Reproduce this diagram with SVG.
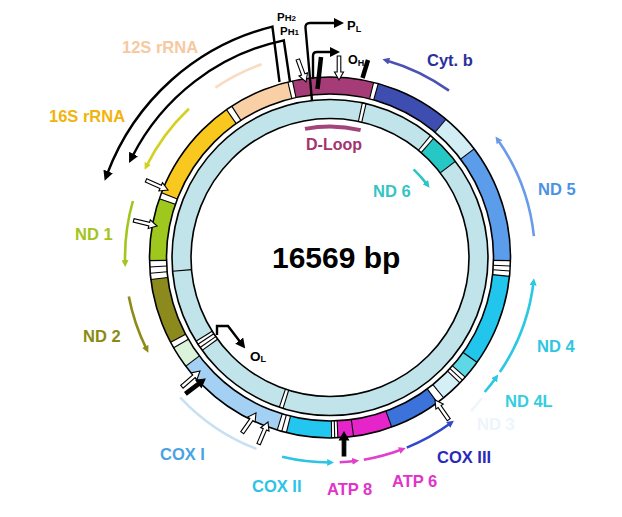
<svg xmlns="http://www.w3.org/2000/svg" width="622" height="517" viewBox="0 0 622 517">
<style>
  text { font-family: "Liberation Sans", Arial, sans-serif; font-weight: bold; }
  .lbl { font-size: 16.5px; }
  .band { fill: none; stroke-width: 17; }
  .iband { fill: none; stroke-width: 19; }
  .edge { fill: none; stroke: #000; stroke-width: 1.6; }
  .tick { stroke: #000; stroke-width: 1.1; }
  .gene { fill: none; stroke-width: 2.6; }
  .pline { fill: none; stroke: #000; stroke-width: 2.4; stroke-linejoin: miter; }
  .wa { fill: #fff; stroke: #000; stroke-width: 1.1; }
  .ba { fill: #000; stroke: #000; stroke-width: 1.1; }
  .bar { stroke: #000; stroke-width: 4.5; }
</style>
<defs>
  <line id="to" x1="0" y1="-163.5" x2="0" y2="-180.5"/>
  <line id="ti" x1="0" y1="-139" x2="0" y2="-158"/>
  <path id="arw" d="M0,0 L-8,-4.5 L-8,-1.8 L-24,-1.8 L-24,1.8 L-8,1.8 L-8,4.5 Z"/>
  <marker id="hk" viewBox="0 0 10 10" refX="3" refY="5" markerWidth="10" markerHeight="10" markerUnits="userSpaceOnUse" orient="auto"><path d="M0,0 L10,5 L0,10 z" fill="#000"/></marker>
  <marker id="h16s" viewBox="0 0 10 10" refX="4" refY="5" markerWidth="7" markerHeight="7" markerUnits="userSpaceOnUse" orient="auto"><path d="M0,0 L10,5 L0,10 z" fill="#d4d020"/></marker>
  <marker id="hnd1" viewBox="0 0 10 10" refX="4" refY="5" markerWidth="7" markerHeight="7" markerUnits="userSpaceOnUse" orient="auto"><path d="M0,0 L10,5 L0,10 z" fill="#a2c61e"/></marker>
  <marker id="hnd2" viewBox="0 0 10 10" refX="4" refY="5" markerWidth="7" markerHeight="7" markerUnits="userSpaceOnUse" orient="auto"><path d="M0,0 L10,5 L0,10 z" fill="#8d8b1a"/></marker>
  <marker id="hcox2" viewBox="0 0 10 10" refX="4" refY="5" markerWidth="7" markerHeight="7" markerUnits="userSpaceOnUse" orient="auto"><path d="M0,0 L10,5 L0,10 z" fill="#2bc4e4"/></marker>
  <marker id="hatp" viewBox="0 0 10 10" refX="4" refY="5" markerWidth="7" markerHeight="7" markerUnits="userSpaceOnUse" orient="auto"><path d="M0,0 L10,5 L0,10 z" fill="#e040cc"/></marker>
  <marker id="hcox3" viewBox="0 0 10 10" refX="4" refY="5" markerWidth="7" markerHeight="7" markerUnits="userSpaceOnUse" orient="auto"><path d="M0,0 L10,5 L0,10 z" fill="#3048cc"/></marker>
  <marker id="hnd4" viewBox="0 0 10 10" refX="4" refY="5" markerWidth="7" markerHeight="7" markerUnits="userSpaceOnUse" orient="auto"><path d="M0,0 L10,5 L0,10 z" fill="#2ac8e2"/></marker>
  <marker id="hnd5" viewBox="0 0 10 10" refX="4" refY="5" markerWidth="7" markerHeight="7" markerUnits="userSpaceOnUse" orient="auto"><path d="M0,0 L10,5 L0,10 z" fill="#6a9be8"/></marker>
  <marker id="hcytb" viewBox="0 0 10 10" refX="4" refY="5" markerWidth="7" markerHeight="7" markerUnits="userSpaceOnUse" orient="auto"><path d="M0,0 L10,5 L0,10 z" fill="#4c52b2"/></marker>
  <marker id="hnd6" viewBox="0 0 10 10" refX="4" refY="5" markerWidth="7" markerHeight="7" markerUnits="userSpaceOnUse" orient="auto"><path d="M0,0 L10,5 L0,10 z" fill="#2ec4c4"/></marker>
</defs>

<rect width="622" height="517" fill="#fff"/>

<!-- base rings -->
<g id="ring" transform="translate(330,257.5)">
  <circle r="172" class="band" stroke="#ffffff"/>
  <circle r="148.5" class="iband" stroke="#c0e4e9"/>
</g>

<!-- genes: ring segment, arrow, label -->
<g id="gene-dloop">
  <circle r="172" class="band" pathLength="360" stroke="#a63c77" stroke-dasharray="26 334" transform="translate(330,257.5) rotate(258)"/>
  <path d="M305,128.9 A131,131 0 0 1 360.6,130.1" fill="none" stroke="#a4457a" stroke-width="4"/>
  <text x="306" y="150" font-size="16" fill="#a3336d">D-Loop</text>
</g>
<g id="gene-cytb">
  <circle r="172" class="band" pathLength="360" stroke="#3d4db0" stroke-dasharray="24.5 335.5" transform="translate(330,257.5) rotate(-74.5)"/>
  <path d="M449,90.6 A205,205 0 0 0 386.5,60.4" class="gene" stroke="#4c52b2" marker-end="url(#hcytb)"/>
  <text x="427" y="66" class="lbl" fill="#2b2f9e">Cyt. b</text>
</g>
<g id="gene-nd6">
  <circle r="172" class="band" pathLength="360" stroke="#d2eef4" stroke-dasharray="13 347" transform="translate(330,257.5) rotate(-50)"/>
  <circle r="148.5" class="iband" pathLength="360" stroke="#25c8c4" stroke-dasharray="11.5 348.5" transform="translate(330,257.5) rotate(-49)"/>
  <path d="M413.6,169.4 A121.5,121.5 0 0 1 427,184.4" class="gene" stroke="#2ec4c4" marker-end="url(#hnd6)"/>
  <text x="373" y="197" class="lbl" fill="#35c4c4">ND 6</text>
</g>
<g id="gene-nd5">
  <circle r="172" class="band" pathLength="360" stroke="#5c9deb" stroke-dasharray="38 322" transform="translate(330,257.5) rotate(-37)"/>
  <path d="M533.9,236.1 A205,205 0 0 0 497.9,139.9" class="gene" stroke="#6a9be8" marker-end="url(#hnd5)"/>
  <text x="538" y="195" class="lbl" fill="#4b92e2">ND 5</text>
</g>
<g id="gene-nd4">
  <circle r="172" class="band" pathLength="360" stroke="#22c5ec" stroke-dasharray="29.5 330.5" transform="translate(330,257.5) rotate(6)"/>
  <path d="M499.9,372.1 A205,205 0 0 0 533.5,282.5" class="gene" stroke="#2ac8e2" marker-end="url(#hnd4)"/>
  <text x="537" y="352" class="lbl" fill="#30c6e2">ND 4</text>
</g>
<g id="gene-nd4l">
  <circle r="172" class="band" pathLength="360" stroke="#5dd8e4" stroke-dasharray="6 354" transform="translate(330,257.5) rotate(35.5)"/>
  <path d="M484.7,392 A205,205 0 0 0 495.8,378" class="gene" stroke="#2ac8e2" marker-end="url(#hnd4)"/>
  <text x="505" y="407" class="lbl" fill="#35cde0">ND 4L</text>
</g>
<g id="gene-nd3">
  <circle r="172" class="band" pathLength="360" stroke="#d4eff5" stroke-dasharray="7 353" transform="translate(330,257.5) rotate(44)"/>
  <path d="M471,411 A205,205 0 0 0 482,398" class="gene" stroke="#eef6fa"/>
  <text x="477" y="430" class="lbl" fill="#eef5fa">ND 3</text>
</g>
<g id="gene-cox3">
  <circle r="172" class="band" pathLength="360" stroke="#3b73da" stroke-dasharray="16.5 343.5" transform="translate(330,257.5) rotate(53.5)"/>
  <path d="M406.8,447.6 A205,205 0 0 0 450.5,423.3" class="gene" stroke="#3048cc" marker-end="url(#hcox3)"/>
  <text x="437" y="463" class="lbl" fill="#2a2ab8">COX III</text>
</g>
<g id="gene-atp6">
  <circle r="172" class="band" pathLength="360" stroke="#e524c9" stroke-dasharray="12.5 347.5" transform="translate(330,257.5) rotate(70)"/>
  <path d="M363.8,459.7 A205,205 0 0 0 401.8,449.5" class="gene" stroke="#e040cc" marker-end="url(#hatp)"/>
  <text x="392" y="487" class="lbl" fill="#e034cb">ATP 6</text>
</g>
<g id="gene-atp8">
  <circle r="172" class="band" pathLength="360" stroke="#e524c9" stroke-dasharray="5 355" transform="translate(330,257.5) rotate(82.5)"/>
  <path d="M339.7,462.3 A205,205 0 0 0 355,461" class="gene" stroke="#e040cc" marker-end="url(#hatp)"/>
  <text x="327" y="495" class="lbl" fill="#e034cb">ATP 8</text>
</g>
<g id="gene-cox2">
  <circle r="172" class="band" pathLength="360" stroke="#22c6ef" stroke-dasharray="14.5 345.5" transform="translate(330,257.5) rotate(89.5)"/>
  <path d="M282.1,456.8 A205,205 0 0 0 330,462.5" class="gene" stroke="#2bc4e4" marker-end="url(#hcox2)"/>
  <text x="252" y="492" class="lbl" fill="#2dc3e6">COX II</text>
</g>
<g id="gene-cox1">
  <circle r="172" class="band" pathLength="360" stroke="#a4d0f3" stroke-dasharray="36 324" transform="translate(330,257.5) rotate(107)"/>
  <path d="M180.1,397.3 A205,205 0 0 0 256.5,448.9" class="gene" stroke="#c9e0f2"/>
  <text x="160" y="460" class="lbl" fill="#4aa2e4">COX I</text>
</g>
<g id="trna-wancy">
  <circle r="172" class="band" pathLength="360" stroke="#daf3da" stroke-dasharray="7 353" transform="translate(330,257.5) rotate(143)"/>
</g>
<g id="gene-nd2">
  <circle r="172" class="band" pathLength="360" stroke="#8c8a1c" stroke-dasharray="21 339" transform="translate(330,257.5) rotate(152)"/>
  <path d="M128.8,296.6 A205,205 0 0 0 146.5,349" class="gene" stroke="#8d8b1a" marker-end="url(#hnd2)"/>
  <text x="83" y="342" class="lbl" fill="#8a8a12">ND 2</text>
</g>
<g id="gene-nd1">
  <circle r="172" class="band" pathLength="360" stroke="#9ec81e" stroke-dasharray="20 340" transform="translate(330,257.5) rotate(179)"/>
  <path d="M132.9,201 A205,205 0 0 0 125.1,262.9" class="gene" stroke="#a2c61e" marker-end="url(#hnd1)"/>
  <text x="75" y="240" class="lbl" fill="#a4c41c">ND 1</text>
</g>
<g id="gene-16s">
  <circle r="172" class="band" pathLength="360" stroke="#f8c81e" stroke-dasharray="34 326" transform="translate(330,257.5) rotate(201)"/>
  <path d="M188.9,108.8 A205,205 0 0 0 146.5,166" class="gene" stroke="#d4d020" marker-end="url(#h16s)"/>
  <text x="49" y="122" class="lbl" fill="#f2b30c">16S rRNA</text>
</g>
<g id="gene-12s">
  <circle r="172" class="band" pathLength="360" stroke="#f9d0a6" stroke-dasharray="19.5 340.5" transform="translate(330,257.5) rotate(237)"/>
  <path d="M261.6,64.3 A205,205 0 0 0 215.4,87.6" class="gene" stroke="#f7dcc2" stroke-width="3"/>
  <text x="122" y="53" class="lbl" fill="#f6c9a0">12S rRNA</text>
</g>

<!-- inner ring white stripes -->
<g id="inner-stripes" transform="translate(330,257.5)">
  <circle r="148.5" class="iband" pathLength="360" stroke="#fff" stroke-dasharray="1.4 358.6" transform="rotate(-78.2)"/>
  <circle r="148.5" class="iband" pathLength="360" stroke="#fff" stroke-dasharray="1.5 358.5" transform="rotate(-50.5)"/>
  <circle r="148.5" class="iband" pathLength="360" stroke="#fff" stroke-dasharray="1.4 358.6" transform="rotate(107.3)"/>
  <circle r="148.5" class="iband" pathLength="360" stroke="#fff" stroke-dasharray="4 356" transform="rotate(144)"/>
</g>

<!-- ticks and outlines -->
<g id="ticks" transform="translate(330,257.5)" class="tick">
  <use href="#to" transform="rotate(346.5)"/><use href="#to" transform="rotate(348)"/>
  <use href="#to" transform="rotate(14)"/><use href="#to" transform="rotate(15.5)"/>
  <use href="#to" transform="rotate(40)"/><use href="#to" transform="rotate(53)"/>
  <use href="#to" transform="rotate(91)"/><use href="#to" transform="rotate(92.7)"/>
  <use href="#to" transform="rotate(94.3)"/><use href="#to" transform="rotate(96)"/>
  <use href="#to" transform="rotate(125.5)"/><use href="#to" transform="rotate(131.5)"/>
  <use href="#to" transform="rotate(132.8)"/><use href="#to" transform="rotate(134)"/>
  <use href="#to" transform="rotate(141)"/><use href="#to" transform="rotate(143.5)"/>
  <use href="#to" transform="rotate(160)"/><use href="#to" transform="rotate(172.5)"/>
  <use href="#to" transform="rotate(177.5)"/><use href="#to" transform="rotate(178.5)"/>
  <use href="#to" transform="rotate(179.5)"/><use href="#to" transform="rotate(194)"/>
  <use href="#to" transform="rotate(195.5)"/><use href="#to" transform="rotate(197)"/>
  <use href="#to" transform="rotate(233)"/><use href="#to" transform="rotate(240)"/>
  <use href="#to" transform="rotate(242)"/><use href="#to" transform="rotate(263)"/>
  <use href="#to" transform="rotate(265)"/><use href="#to" transform="rotate(267)"/>
  <use href="#to" transform="rotate(269)"/><use href="#to" transform="rotate(289)"/>
  <use href="#to" transform="rotate(291)"/><use href="#to" transform="rotate(325)"/>
  <use href="#to" transform="rotate(327)"/>
  <use href="#ti" transform="rotate(11.8)"/><use href="#ti" transform="rotate(13.2)"/>
  <use href="#ti" transform="rotate(39.5)"/><use href="#ti" transform="rotate(41)"/>
  <use href="#ti" transform="rotate(52.5)"/>
  <use href="#ti" transform="rotate(197.3)"/><use href="#ti" transform="rotate(198.7)"/>
  <use href="#ti" transform="rotate(234)"/><use href="#ti" transform="rotate(235.3)"/>
  <use href="#ti" transform="rotate(236.7)"/><use href="#ti" transform="rotate(238)"/>
  <use href="#ti" transform="rotate(265)"/>
  <circle r="180.5" class="edge"/>
  <circle r="163.5" class="edge"/>
  <circle r="158" class="edge"/>
  <circle r="139" class="edge"/>
</g>

<!-- connectors: promoters, origins and site markers -->
<g id="connectors">
  <path id="ph2" d="M279.5,82 L272.4,26.6 A238,238 0 0 0 107.1,174.2" class="pline" marker-end="url(#hk)"/>
  <path id="ph1" d="M290,82 L283.8,40.3 A222,222 0 0 0 132.2,156.7" class="pline" marker-end="url(#hk)"/>
  <path id="pl" d="M312,101 L305.5,28 Q305,23 310,23 L337,23" class="pline" marker-end="url(#hk)"/>
  <path id="oh" d="M313,79 L313,56 Q313,52 317,52 L333,52" class="pline" marker-end="url(#hk)"/>
  <path id="ol" d="M217,335 L217,326 L228,326 L241,343" class="pline" stroke-width="2" marker-end="url(#hk)"/>
  <line x1="321" y1="57" x2="317.5" y2="89" class="bar"/>
  <line x1="368" y1="60" x2="362.5" y2="78" class="bar"/>
  <use href="#arw" class="wa" transform="translate(306,82) rotate(70)"/>
  <use href="#arw" class="wa" transform="translate(339,80) rotate(90)"/>
  <use href="#arw" class="wa" transform="translate(168,190) rotate(23.5)"/>
  <use href="#arw" class="wa" transform="translate(157,226) rotate(13.5)"/>
  <use href="#arw" class="ba" transform="translate(205,379) rotate(-37)"/>
  <use href="#arw" class="wa" transform="translate(200,371) rotate(-41)"/>
  <use href="#arw" class="wa" transform="translate(256,413) rotate(-55)"/>
  <use href="#arw" class="wa" transform="translate(268,422) rotate(-67)"/>
  <use href="#arw" class="ba" transform="translate(344,432) rotate(-90)"/>
  <use href="#arw" class="wa" transform="translate(435,400) rotate(-125)"/>
</g>

<g id="site-labels">
  <text x="277" y="21" font-size="11.5">P<tspan font-size="9.5">H</tspan><tspan font-size="8">2</tspan></text>
  <text x="280" y="34.5" font-size="11.5">P<tspan font-size="9.5">H</tspan><tspan font-size="8">1</tspan></text>
  <text x="347" y="30" font-size="13">P<tspan font-size="9" dy="2">L</tspan></text>
  <text x="348" y="64" font-size="12.5">O<tspan font-size="9" dy="1.5">H</tspan></text>
  <text x="250" y="361" font-size="13.5">O<tspan font-size="9" dy="1">L</tspan></text>
</g>

<g id="genome-size">
  <text x="272" y="268" font-size="30" fill="#000">16569 bp</text>
</g>
</svg>
